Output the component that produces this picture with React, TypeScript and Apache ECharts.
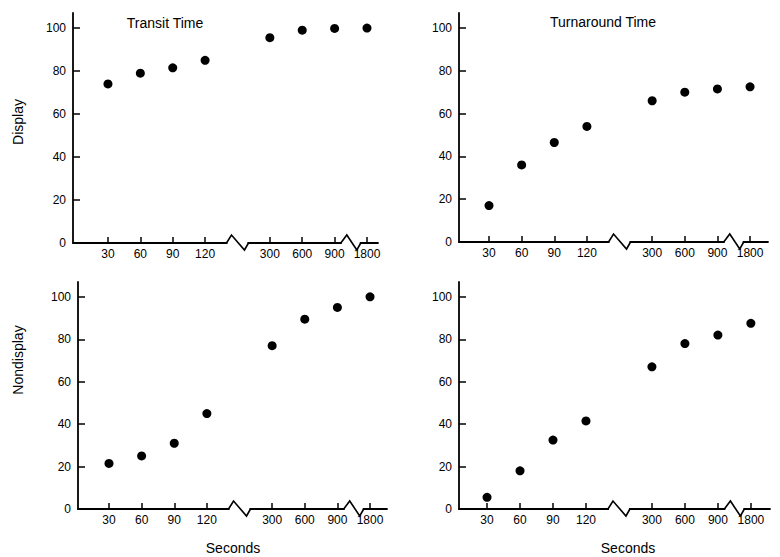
import React, { useEffect, useRef } from "react";
import * as echarts from "echarts";

// ---- data ----
const categories = ["30", "60", "90", "120", "300", "600", "900", "1800"];
const transitDisplay = [74, 79, 81.5, 85, 95.5, 99, 99.8, 100];
const turnaroundDisplay = [17, 36, 46.5, 54, 66, 70, 71.5, 72.5];
const transitNondisplay = [21.5, 25, 31, 45, 77, 89.5, 95, 100];
const turnaroundNondisplay = [5.5, 18, 32.5, 41.5, 67, 78, 82, 87.5];
const yTicks = [0, 20, 40, 60, 80, 100];
const panelTitles = ["Transit Time", "Turnaround Time"];
const rowNames = ["Display", "Nondisplay"];
const xName = "Seconds";

// a broken-axis gap occupies one slot after the 4th category
const BREAK_AFTER = 3;
const slotOf = (i: number) => (i > BREAK_AFTER ? i + 1 : i);
const slots = categories.map((_, i) => slotOf(i));
const breakMarks = [
  [BREAK_AFTER + 1, 0, 1],
  [(slotOf(6) + slotOf(7)) / 2, 0, 2],
];

const FONT = "'Liberation Sans', Arial, Helvetica, sans-serif";
const INK = "#000";

const panels = [
  { left: 73, top: 13, width: 305, height: 230, xmin: -1.08, xmax: 8.34, data: transitDisplay },
  { left: 459, top: 13, width: 309, height: 229, xmin: -0.92, xmax: 8.55, data: turnaroundDisplay },
  { left: 78, top: 282, width: 309, height: 227, xmin: -0.95, xmax: 8.52, data: transitNondisplay },
  { left: 459, top: 282, width: 311, height: 227, xmin: -0.85, xmax: 8.58, data: turnaroundNondisplay },
];

export default function App() {
  const ref = useRef<HTMLDivElement>(null);
  useEffect(() => {
    if (!ref.current) return;
    const chart = echarts.init(ref.current, undefined, { renderer: "svg" });
    const grid = panels.map((p) => ({
      left: p.left,
      top: p.top,
      width: p.width,
      height: p.height,
      containLabel: false,
    }));
    const xAxis = panels.map((p, k) => ({
      type: "value",
      gridIndex: k,
      min: p.xmin,
      max: p.xmax,
      splitLine: { show: false },
      axisLine: { show: true, onZero: false, lineStyle: { color: INK, width: 1.8 } },
      axisTick: {
        show: true,
        inside: true,
        length: 6,
        customValues: slots,
        lineStyle: { color: INK, width: 1.5 },
      },
      axisLabel: {
        show: true,
        customValues: slots,
        margin: 5,
        color: INK,
        fontSize: 12,
        fontFamily: FONT,
        formatter: (v: number) => {
          const i = slots.indexOf(Math.round(v));
          return i >= 0 ? categories[i] : "";
        },
      },
    }));
    const yAxis = panels.map((p, k) => ({
      type: "value",
      gridIndex: k,
      min: 0,
      max: 107,
      splitLine: { show: false },
      axisLine: { show: true, onZero: false, lineStyle: { color: INK, width: 1.8 } },
      axisTick: {
        show: true,
        inside: true,
        length: 7,
        customValues: yTicks,
        lineStyle: { color: INK, width: 1.5 },
      },
      axisLabel: {
        show: true,
        customValues: yTicks,
        margin: 7,
        color: INK,
        fontSize: 12,
        fontFamily: FONT,
      },
    }));
    const series: any[] = [];
    panels.forEach((p, k) => {
      series.push({
        type: "scatter",
        xAxisIndex: k,
        yAxisIndex: k,
        symbol: "circle",
        symbolSize: 9,
        itemStyle: { color: INK, opacity: 1 },
        data: categories.map((_, i) => [slotOf(i), p.data[i]]),
      });
      series.push({
        type: "custom",
        xAxisIndex: k,
        yAxisIndex: k,
        silent: true,
        clip: false,
        z: 5,
        data: breakMarks,
        renderItem: (_params: any, api: any) => {
          const c = api.coord([api.value(0), 0]);
          const kind = api.value(2);
          const pts =
            kind === 1
              ? [[-11, 0], [-6, -8], [7, 7], [11, 0]]
              : [[-10, 0], [-4, -8], [6, 7], [10, 0]];
          const w = kind === 1 ? 10 : 9;
          return {
            type: "group",
            children: [
              {
                type: "rect",
                shape: { x: c[0] - w, y: c[1] - 3, width: 2 * w, height: 6 },
                style: { fill: "#fff" },
              },
              {
                type: "polyline",
                shape: { points: pts.map((q) => [c[0] + q[0], c[1] + q[1]]) },
                style: { stroke: INK, lineWidth: 1.6, fill: "none" },
              },
            ],
          };
        },
      });
    });
    const textStyle = (text: string, size: number) => ({
      text,
      fill: INK,
      font: `${size}px ${FONT}`,
      align: "center",
      verticalAlign: "middle",
    });
    const graphic = [
      { type: "text", x: 165, y: 23, style: textStyle(panelTitles[0], 14) },
      { type: "text", x: 603, y: 22, style: textStyle(panelTitles[1], 14) },
      { type: "text", x: 18, y: 122, rotation: Math.PI / 2, style: textStyle(rowNames[0], 14) },
      { type: "text", x: 18, y: 360, rotation: Math.PI / 2, style: textStyle(rowNames[1], 14) },
      { type: "text", x: 233, y: 548, style: textStyle(xName, 14) },
      { type: "text", x: 628, y: 548, style: textStyle(xName, 14) },
    ];
    chart.setOption({
      animation: false,
      backgroundColor: "#fff",
      grid,
      xAxis,
      yAxis,
      series,
      graphic,
    });
    return () => chart.dispose();
  }, []);
  return (
    <div
      ref={ref}
      style={{ position: "absolute", left: 0, top: 0, width: 780, height: 557 }}
    />
  );
}
